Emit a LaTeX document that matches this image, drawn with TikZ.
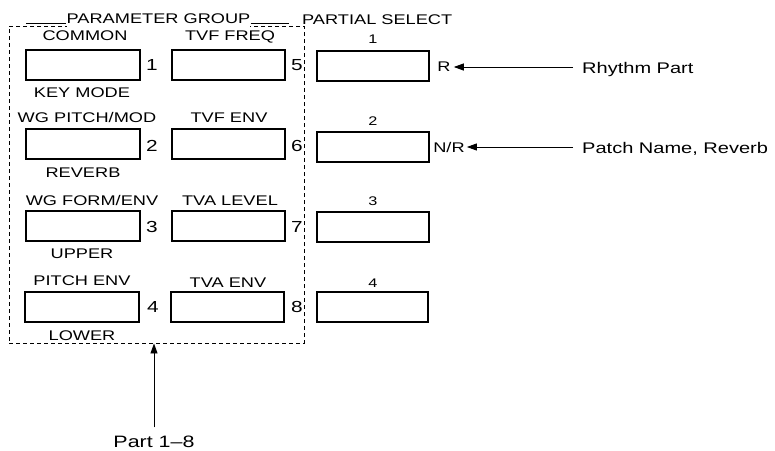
\documentclass[tikz,border=0pt]{standalone}
\usepackage{fontspec}
\setmainfont{Liberation Sans}[FakeStretch=1.3]
\usetikzlibrary{arrows.meta}
\begin{document}
\begin{tikzpicture}[x=1pt,y=-1pt,
 btn/.style={draw, line width=2.4pt, minimum width=113.5pt, minimum height=30.5pt, inner sep=0pt},
 pbtn/.style={btn, minimum width=111.5pt, minimum height=29.5pt},
 lbl/.style={font=\fontsize{14}{16}\selectfont, inner sep=0pt, anchor=base},
 num/.style={font=\fontsize{16}{18}\selectfont, inner sep=0pt},
 pnum/.style={font=\fontsize{12.5}{15}\selectfont, inner sep=0pt, anchor=base},
 note/.style={font=\fontsize{15.4}{18}\selectfont, inner sep=0pt, anchor=base west},
 ptr/.style={line width=0.9pt, -{Triangle[length=10pt,width=7pt]}},
 grp/.style={draw, dash pattern=on 4pt off 3pt, line width=0.9pt, inner sep=0pt},
 uline/.style={line width=1pt}
]
\useasboundingbox (0,0) rectangle (775,450);
% dashed group frame
\node[grp, minimum width=295pt, minimum height=317pt] (grp) at (156.5,184.5) {};
% titles
\node[lbl, fill=white, inner xsep=0pt, inner ysep=4pt] (title) at (158.5,23) {PARAMETER GROUP};
\draw[uline] ([xshift=-40pt]title.base west) -- (title.base west);
\draw[uline] (title.base east) -- ([xshift=38pt]title.base east);
\node[lbl, anchor=base west] (ptitle) at (302,24.5) {PARTIAL SELECT};
% column 1
\node[btn] (b1) at (83,65) {};
\node[btn] (b2) at (83,144) {};
\node[btn] (b3) at (83,226) {};
\node[btn] (b4) at (82,307) {};
\node[lbl] (l1a) at (85,40) {COMMON};
\node[lbl] (l1b) at (82,97) {KEY MODE};
\node[lbl] (l2a) at (87,122) {WG PITCH/MOD};
\node[lbl] (l2b) at (83,177) {REVERB};
\node[lbl] (l3a) at (92,205) {WG FORM/ENV};
\node[lbl] (l3b) at (82,258) {UPPER};
\node[lbl] (l4a) at (82,285) {PITCH ENV};
\node[lbl] (l4b) at (82,340.5) {LOWER};
\node[num] (n1) at (152,65) {1};
\node[num] (n2) at (152,146) {2};
\node[num] (n3) at (152,227) {3};
\node[num] (n4) at (153,307) {4};
% column 2
\node[btn] (b5) at (228.5,65) {};
\node[btn] (b6) at (228.5,144) {};
\node[btn] (b7) at (228.5,226) {};
\node[btn] (b8) at (227.5,307) {};
\node[lbl] (l5a) at (230,40) {TVF FREQ};
\node[lbl] (l6a) at (229,122) {TVF ENV};
\node[lbl] (l7a) at (230,205) {TVA LEVEL};
\node[lbl] (l8a) at (228,287) {TVA ENV};
\node[num] (n5) at (297,65) {5};
\node[num] (n6) at (297,146) {6};
\node[num] (n7) at (297,227) {7};
\node[num] (n8) at (297,307) {8};
% column 3 (partial select)
\node[pbtn] (p1) at (373,66) {};
\node[pbtn] (p2) at (373,147) {};
\node[pbtn] (p3) at (373,227) {};
\node[pbtn] (p4) at (372.5,307) {};
\node[pnum] (q1) at (373,43) {1};
\node[pnum] (q2) at (373,125) {2};
\node[pnum] (q3) at (373,205) {3};
\node[pnum] (q4) at (373,287) {4};
% right annotations
\node[font=\fontsize{14}{16}\selectfont, inner sep=0pt] (r) at (444,67) {R};
\node[font=\fontsize{14}{16}\selectfont, inner sep=0pt] (nr) at (449,147) {N/R};
\node[note] (rp) at (582,73) {Rhythm Part};
\node[note] (pn) at (582,153) {Patch Name, Reverb};
\draw[ptr] ([xshift=-9pt]rp.west |- r.east) -- ([xshift=3pt]r.east);
\draw[ptr] ([xshift=-9pt]pn.west |- nr.east) -- ([xshift=2pt]nr.east);
% bottom annotation
\node[font=\fontsize{16.5}{19}\selectfont, inner sep=0pt, anchor=base] (part) at (154,447) {Part 1–8};
\draw[ptr] ([yshift=8pt]part.north) -- (part.north |- grp.south);
\end{tikzpicture}
\end{document}
